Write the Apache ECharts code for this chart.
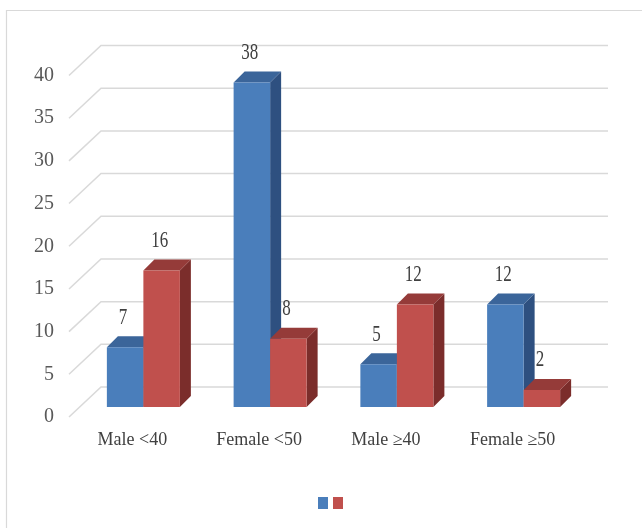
<!DOCTYPE html>
<html>
<head>
<meta charset="utf-8">
<script src="https://cdn.jsdelivr.net/npm/echarts@6/dist/echarts.min.js"></script>
<style>
  html, body { margin: 0; padding: 0; background: #ffffff; }
  #chart { width: 642px; height: 528px; }
</style>
</head>
<body>
<div id="chart"></div>
<script>
// Categories and the two column series
const categories = ['Male <40', 'Female <50', 'Male \u226540', 'Female \u226550'];
const series1Values = [7, 38, 5, 12];
const series2Values = [16, 8, 12, 2];
// Value axis ticks
const yTicks = [0, 5, 10, 15, 20, 25, 30, 35, 40];

// 3D look: the grid is the front plane; columns sit a bit behind it,
// the back wall with the gridlines sits further back.
const COL_DX = 11, COL_DY = -10;     // front face of the columns
const COL_DEPTH = 11;                // depth of each column
const WALL_DX = 32, WALL_DY = -30;    // back wall

const BLUE = { front: '#4a7ebb', top: '#3b659a', side: '#2e5080' };
const RED = { front: '#c0504d', top: '#953b39', side: '#7b2d2b' };

function columnRenderer(side, col) {
  return function (params, api) {
    const cat = api.value(0);
    const val = api.value(1);
    const base = api.coord([cat, 0]);
    const topPt = api.coord([cat, val]);
    const barW = api.size([1, 0])[0] * 0.288;
    const cx = base[0] + COL_DX;
    const x0 = side === 0 ? cx - barW : cx;
    const x1 = x0 + barW;
    const yb = base[1] + COL_DY;
    const yt = topPt[1] + COL_DY;
    const d = COL_DEPTH;
    return {
      type: 'group',
      children: [
        { type: 'polygon', shape: { points: [[x1, yt], [x1 + d, yt - d], [x1 + d, yb - d], [x1, yb]] },
          style: { fill: col.side } },
        { type: 'polygon', shape: { points: [[x0, yt], [x0 + d, yt - d], [x1 + d, yt - d], [x1, yt]] },
          style: { fill: col.top } },
        { type: 'rect', shape: { x: x0, y: yt, width: barW, height: yb - yt },
          style: { fill: col.front } },
        { type: 'text', x: (x0 + x1) / 2 - 2, y: yt - 18, scaleY: 1.4,
          style: { text: String(val), align: 'center', verticalAlign: 'bottom',
                   font: '17px "Liberation Serif"', fill: '#404040' } }
      ]
    };
  };
}

function wallRenderer(params, api) {
  const cs = params.coordSys;
  const y = api.coord([0, api.value(1)])[1];
  const xl = cs.x;
  return {
    type: 'polyline',
    shape: { points: [[xl, y], [xl + WALL_DX, y + WALL_DY], [xl + cs.width + WALL_DX, y + WALL_DY]] },
    style: { stroke: '#d9d9d9', lineWidth: 1.5, fill: null },
    silent: true
  };
}

const chart = echarts.init(document.getElementById('chart'), null, { renderer: 'canvas' });

chart.setOption({
  backgroundColor: '#ffffff',
  animation: false,
  graphic: [
    { type: 'rect', silent: true, z: -10,
      shape: { x: 6.5, y: 10.5, width: 640, height: 530 },
      style: { fill: null, stroke: '#d9d9d9', lineWidth: 1.2 } }
  ],
  grid: { left: 69, right: 66, top: 75.5, bottom: 111 },
  legend: {
    data: ['Series 1', 'Series 2'],
    left: 313, top: 492,
    icon: 'rect', itemWidth: 10, itemHeight: 12, itemGap: 5,
    formatter: function () { return ''; },
    selectedMode: false
  },
  xAxis: {
    type: 'category',
    data: categories,
    axisLine: { show: false },
    axisTick: { show: false },
    axisLabel: { margin: 14, fontFamily: 'Liberation Serif', fontSize: 18, color: '#404040' }
  },
  yAxis: {
    type: 'value',
    min: 0, max: 40, interval: 5,
    axisLine: { show: false },
    axisTick: { show: false },
    splitLine: { show: false },
    axisLabel: { margin: 15, fontFamily: 'Liberation Sans Narrow', fontSize: 20, color: '#595959' }
  },
  series: [
    {
      name: 'Walls', type: 'custom', silent: true, z: 1,
      renderItem: wallRenderer,
      data: yTicks.map(function (t) { return [0, t]; })
    },
    {
      name: 'Series 1', type: 'custom', z: 2,
      itemStyle: { color: BLUE.front },
      renderItem: columnRenderer(0, BLUE),
      data: series1Values.map(function (v, i) { return [i, v]; })
    },
    {
      name: 'Series 2', type: 'custom', z: 3,
      itemStyle: { color: RED.front },
      renderItem: columnRenderer(1, RED),
      data: series2Values.map(function (v, i) { return [i, v]; })
    }
  ]
});
</script>
</body>
</html>
